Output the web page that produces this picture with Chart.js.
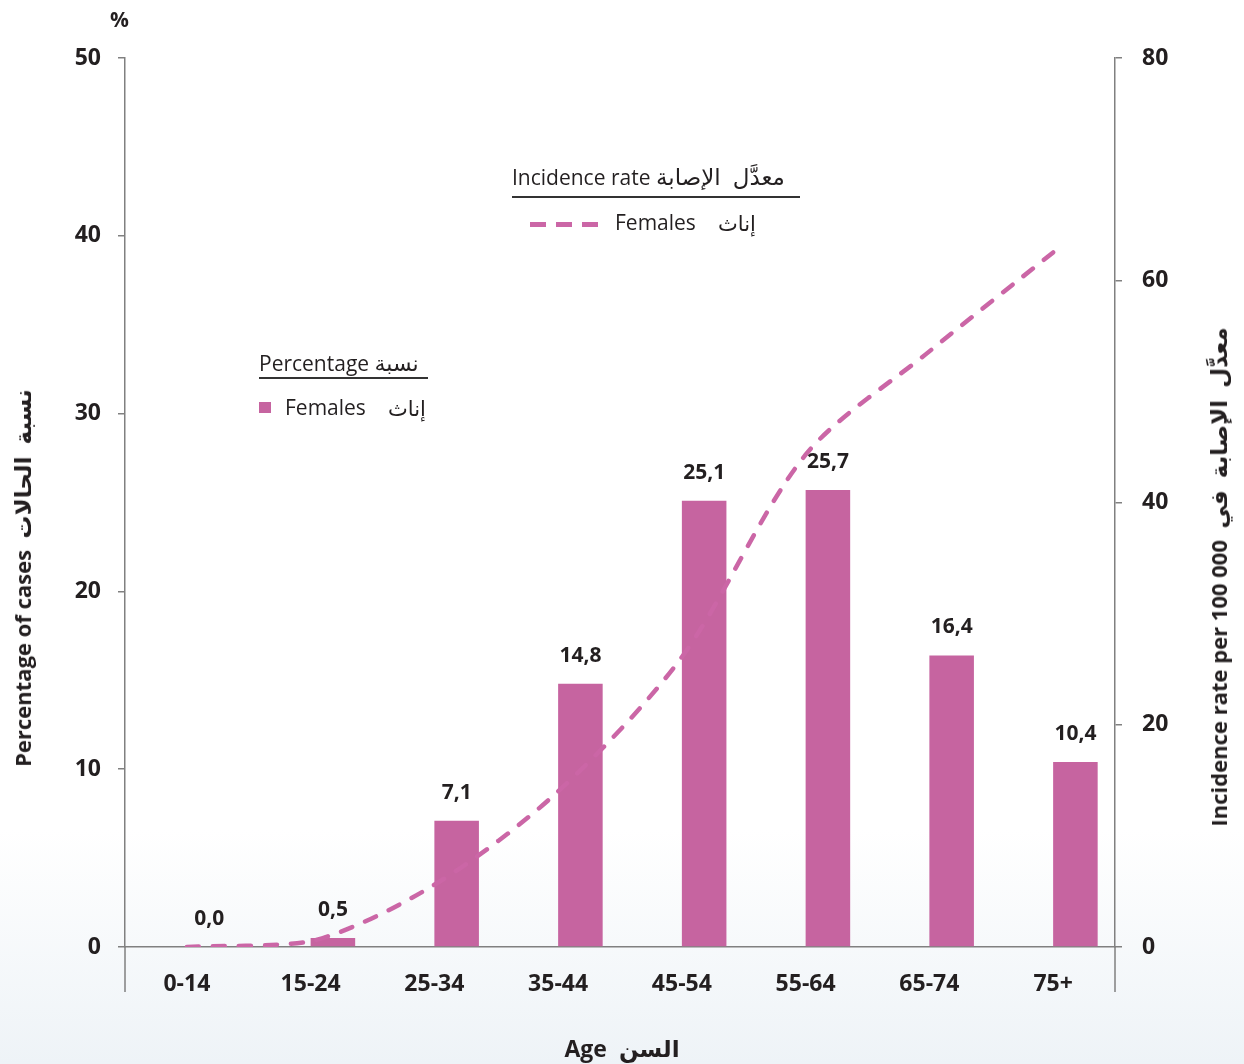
<!DOCTYPE html>
<html>
<head>
<meta charset="utf-8">
<script src="https://cdn.jsdelivr.net/npm/chart.js@4.4.0/dist/chart.umd.min.js"></script>
<style>
  html, body { margin: 0; padding: 0; }
  body {
    width: 1244px; height: 1064px; overflow: hidden;
    background: linear-gradient(to bottom, #ffffff 0%, #ffffff 78%, #eef3f7 100%);
    font-family: "Open Sans", "DejaVu Sans", sans-serif;
    color: #231f20;
  }
  #wrap { position: relative; width: 1244px; height: 1064px; }
  #chart { position: absolute; left: 0; top: 0; }
  .txt { position: absolute; white-space: nowrap; }
  .bold { font-weight: 700; }
  .ar { font-size: 23px; word-spacing: 6px; }
  .vtitle { position: absolute; font-weight: 700; font-size: 22px; white-space: nowrap;
            transform: translate(-50%, -50%) rotate(-90deg); }
</style>
</head>
<body>
<div id="wrap">
  <canvas id="chart" width="1244" height="1064"></canvas>

  <div class="txt bold" style="left:110px; top:5px; font-size:21px;">%</div>

  <div class="vtitle" style="left:22px; top:578px;">Percentage of cases&nbsp;&nbsp;<span class="ar">نسبة الحالات</span></div>
  <div class="vtitle" style="left:1218px; top:577px;">Incidence rate per 100 000&nbsp;&nbsp;<span class="ar">معدَّل الإصابة في</span></div>

  <div class="txt bold" style="left:0; width:1244px; text-align:center; top:1032px; font-size:23px;">Age&nbsp;&nbsp;<span class="ar">السن</span></div>

  <!-- incidence legend -->
  <div class="txt" style="left:512px; top:161px; font-size:21px; line-height:30px;">Incidence rate <span class="ar">معدَّل الإصابة</span></div>
  <div style="position:absolute; left:512px; top:196px; width:288px; height:1.5px; background:#333;"></div>
  <div style="position:absolute; left:530px; top:222px; width:68px; height:5px;
              background:repeating-linear-gradient(90deg, #cb66a6 0 16px, transparent 16px 26px);"></div>
  <div class="txt" style="left:615px; top:207px; font-size:21px; line-height:30px;">Females</div>
  <div class="txt" style="left:718px; top:208px; font-size:21px; line-height:30px;">إناث</div>

  <!-- percentage legend -->
  <div class="txt" style="left:259px; top:347px; font-size:21px; line-height:30px;">Percentage <span style="font-size:22px;">نسبة</span></div>
  <div style="position:absolute; left:259px; top:377px; width:169px; height:1.5px; background:#333;"></div>
  <div style="position:absolute; left:259px; top:402px; width:12px; height:11px; background:#c664a0;"></div>
  <div class="txt" style="left:285px; top:392px; font-size:21px; line-height:30px;">Females</div>
  <div class="txt" style="left:388px; top:393px; font-size:21px; line-height:30px;">إناث</div>
</div>

<script>
const ageGroups = ['0-14', '15-24', '25-34', '35-44', '45-54', '55-64', '65-74', '75+'];
const percentFemales = [0.0, 0.5, 7.1, 14.8, 25.1, 25.7, 16.4, 10.4];
const incidenceFemales = [0, 0.5, 5.6, 14.0, 26.1, 44.3, 53.6, 62.5];
const percentTicks = [0, 10, 20, 30, 40, 50];
const incidenceTicks = [0, 20, 40, 60, 80];

const barColor = '#c664a0';
const lineColor = '#cb66a6';
const axisColor = '#808080';
const tickFont = { family: '"Open Sans", sans-serif', size: 23, weight: 'bold' };

// value labels above the bars, comma as decimal mark
const barLabels = {
    id: 'barLabels',
    afterDatasetsDraw(chart) {
        const ctx = chart.ctx;
        const meta = chart.getDatasetMeta(1);
        ctx.save();
        ctx.font = 'bold 21px "Open Sans", sans-serif';
        ctx.fillStyle = '#231f20';
        ctx.textAlign = 'center';
        ctx.textBaseline = 'middle';
        meta.data.forEach((bar, i) => {
            ctx.fillText(percentFemales[i].toFixed(1).replace('.', ','), bar.x, bar.y - 28);
        });
        ctx.restore();
    }
};

// the two vertical axes run a little below the zero line
const axisTails = {
    id: 'axisTails',
    afterDraw(chart) {
        const { ctx, chartArea } = chart;
        ctx.save();
        ctx.strokeStyle = axisColor;
        ctx.lineWidth = 1.5;
        ctx.beginPath();
        ctx.moveTo(chartArea.left, chartArea.bottom);
        ctx.lineTo(chartArea.left, chartArea.bottom + 45);
        ctx.moveTo(chartArea.right, chartArea.bottom);
        ctx.lineTo(chartArea.right, chartArea.bottom + 45);
        ctx.stroke();
        ctx.restore();
    }
};

const ctx = document.getElementById('chart').getContext('2d');
const chart = new Chart(ctx, {
    type: 'bar',
    data: {
        labels: ageGroups,
        datasets: [
            {
                // empty slot so the bar sits right of the category centre
                label: '',
                data: ageGroups.map(() => null),
                backgroundColor: 'transparent',
                yAxisID: 'y',
                order: 2
            },
            {
                label: 'Percentage - Females',
                data: percentFemales,
                backgroundColor: barColor,
                borderWidth: 0,
                yAxisID: 'y',
                order: 2
            },
            {
                type: 'line',
                label: 'Incidence rate - Females',
                data: incidenceFemales,
                borderColor: lineColor,
                borderWidth: 4.5,
                borderDash: [12, 14],
                borderCapStyle: 'round',
                tension: 0.3,
                pointRadius: 0,
                fill: false,
                yAxisID: 'y2',
                order: 1
            }
        ]
    },
    options: {
        responsive: false,
        animation: false,
        layout: { padding: { top: 58, left: 0, right: 0, bottom: 0 } },
        categoryPercentage: 0.72,
        barPercentage: 1.0,
        plugins: {
            legend: { display: false },
            tooltip: { enabled: false }
        },
        scales: {
            x: {
                grid: { display: false },
                border: { display: true, color: axisColor, width: 1.5 },
                ticks: { color: '#231f20', font: tickFont, padding: 16 },
                afterFit: (s) => { s.height = 117; }
            },
            y: {
                position: 'left',
                min: 0, max: 50,
                afterBuildTicks: (s) => { s.ticks = percentTicks.map(v => ({ value: v })); },
                grid: { display: true, drawOnChartArea: false, drawTicks: true, tickLength: 7, color: axisColor, lineWidth: 1.5 },
                border: { display: true, color: axisColor, width: 1.5 },
                ticks: { color: '#231f20', font: tickFont, padding: 17 },
                afterFit: (s) => { s.width = 125; }
            },
            y2: {
                position: 'right',
                min: 0, max: 80,
                afterBuildTicks: (s) => { s.ticks = incidenceTicks.map(v => ({ value: v })); },
                grid: { display: true, drawOnChartArea: false, drawTicks: true, tickLength: 7, color: axisColor, lineWidth: 1.5 },
                border: { display: true, color: axisColor, width: 1.5 },
                ticks: { color: '#231f20', font: tickFont, padding: 20 },
                afterFit: (s) => { s.width = 129; }
            }
        }
    },
    plugins: [barLabels, axisTails]
});
</script>
</body>
</html>
